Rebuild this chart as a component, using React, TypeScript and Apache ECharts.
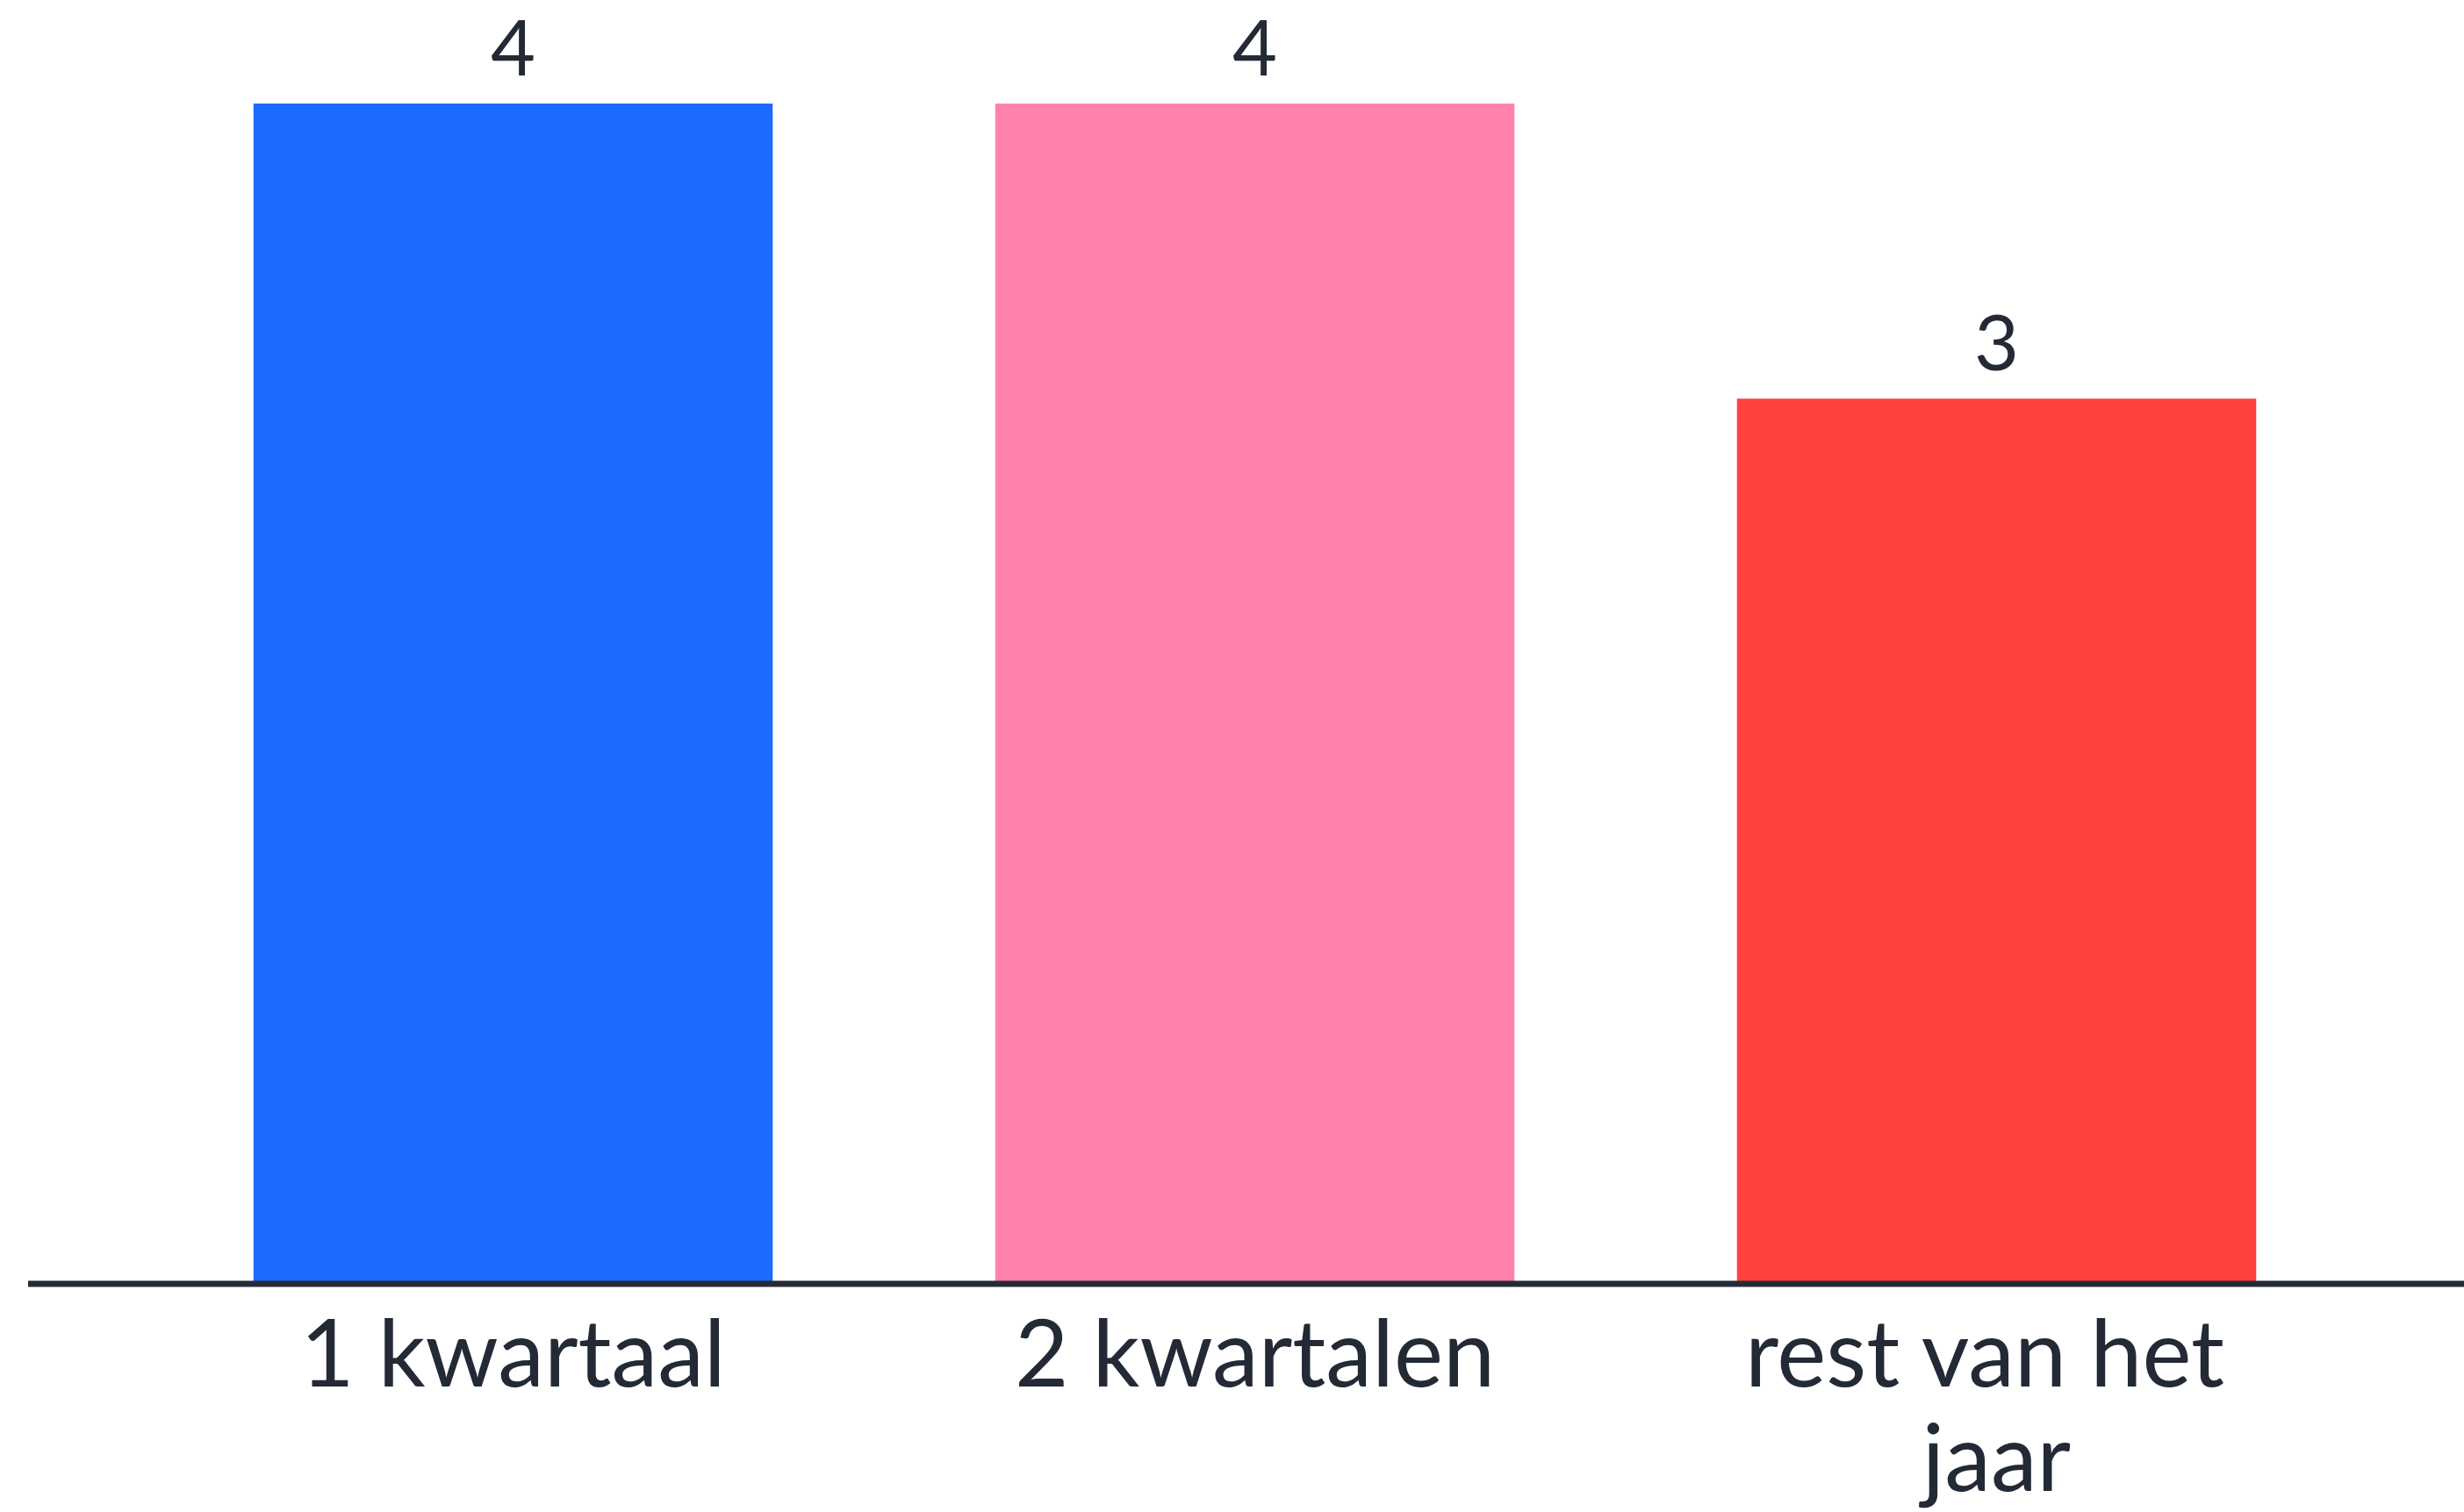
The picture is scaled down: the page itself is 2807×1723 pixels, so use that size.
import React, { useEffect, useRef } from "react";
import * as echarts from "echarts";

const categories = ["1 kwartaal", "2 kwartalen", "rest van het jaar"];
const values = [4, 4, 3];
const barColors = ["#1b6bff", "#ff82ab", "#ff423e"];

export default function App() {
  const ref = useRef<HTMLDivElement>(null);
  useEffect(() => {
    if (!ref.current) return;
    const chart = echarts.init(ref.current, undefined, { renderer: "svg" });
    const W = ref.current.clientWidth;
    const H = ref.current.clientHeight;
    const gridBottom = 260;
    chart.setOption({
      animation: false,
      backgroundColor: "#ffffff",
      grid: { left: 162, right: 110, top: 118, bottom: gridBottom },
      xAxis: {
        type: "category",
        data: categories,
        axisLine: { show: false },
        axisTick: { show: false },
        axisLabel: {
          color: "#232a36",
          fontFamily: "Lato",
          fontSize: 106,
          lineHeight: 119,
          margin: 16,
          width: 640,
          overflow: "break",
          interval: 0,
        },
      },
      yAxis: {
        type: "value",
        min: 0,
        max: 4,
        show: false,
        splitLine: { show: false },
      },
      series: [
        {
          type: "bar",
          data: values.map((v, i) => ({ value: v, itemStyle: { color: barColors[i] } })),
          barWidth: "70%",
          label: {
            show: true,
            position: "top",
            distance: 22,
            color: "#232a36",
            fontFamily: "Lato",
            fontSize: 88,
          },
        },
      ],
      graphic: [
        {
          type: "line",
          shape: { x1: 32, y1: H - gridBottom, x2: W, y2: H - gridBottom },
          style: { stroke: "#252b36", lineWidth: 7 },
          z: 10,
        },
      ],
    });
    return () => chart.dispose();
  }, []);
  return (
    <div
      ref={ref}
      style={{ position: "fixed", left: 0, top: 0, width: "100vw", height: "100vh" }}
    />
  );
}
